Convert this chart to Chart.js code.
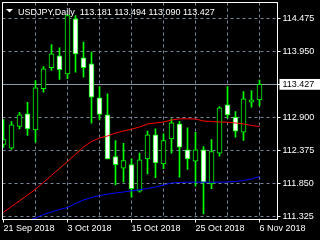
<!DOCTYPE html>
<html><head><meta charset="utf-8">
<script src="https://cdn.jsdelivr.net/npm/chart.js@4/dist/chart.umd.min.js"></script>
<style>html,body{margin:0;padding:0;background:#000;overflow:hidden}canvas{display:block}</style>
</head><body>
<canvas id="c" width="320" height="240"></canvas>
<script>
const chartTitle = 'USDJPY,Daily';
const dates = ['21 Sep 2018','24 Sep 2018','25 Sep 2018','26 Sep 2018','27 Sep 2018','28 Sep 2018',
  '1 Oct 2018','2 Oct 2018','3 Oct 2018','4 Oct 2018','5 Oct 2018','8 Oct 2018','9 Oct 2018','10 Oct 2018',
  '11 Oct 2018','12 Oct 2018','15 Oct 2018','16 Oct 2018','17 Oct 2018','18 Oct 2018','19 Oct 2018',
  '22 Oct 2018','23 Oct 2018','24 Oct 2018','25 Oct 2018','26 Oct 2018','29 Oct 2018','30 Oct 2018',
  '31 Oct 2018','1 Nov 2018','2 Nov 2018','5 Nov 2018','6 Nov 2018'];
const open  = [112.470,112.412,112.757,112.959,112.704,113.357,113.691,113.882,113.595,114.470,113.850,113.754,113.213,112.943,112.280,112.093,112.152,111.728,112.243,112.625,112.163,112.561,112.800,112.386,112.205,112.386,111.845,112.332,113.102,112.905,112.666,113.143,113.181];
const high  = [112.868,112.836,112.984,113.143,113.489,113.711,114.061,114.009,114.539,114.523,114.098,113.939,113.393,113.277,112.534,112.491,112.243,112.332,112.682,112.720,112.641,112.879,112.841,112.736,112.666,112.439,112.550,113.075,113.393,112.995,113.314,113.330,113.494];
const low   = [112.423,112.391,112.720,112.614,112.507,113.303,113.648,113.505,113.516,113.621,113.541,112.809,112.863,112.243,111.829,111.871,111.632,111.712,112.004,111.941,112.084,112.332,111.951,112.073,111.807,111.368,111.766,112.284,112.889,112.587,112.534,113.064,113.090];
const close = [112.550,112.784,112.943,112.720,113.373,113.675,113.913,113.659,114.523,113.913,113.691,113.223,112.948,112.243,112.148,112.216,111.766,112.227,112.625,112.179,112.534,112.816,112.428,112.243,112.386,111.871,112.359,113.054,112.943,112.682,113.198,113.182,113.427];
const maRed  = [111.393,111.484,111.575,111.667,111.758,111.869,111.979,112.089,112.200,112.315,112.431,112.518,112.574,112.606,112.653,112.685,112.714,112.749,112.797,112.813,112.828,112.860,112.879,112.879,112.876,112.844,112.836,112.828,112.825,112.813,112.797,112.773,112.757];
const maBlue = [111.118,111.166,111.209,111.253,111.301,111.357,111.397,111.436,111.468,111.532,111.588,111.627,111.659,111.680,111.699,111.715,111.734,111.750,111.770,111.794,111.826,111.858,111.866,111.871,111.871,111.871,111.871,111.871,111.874,111.882,111.898,111.922,111.961];
const priceTicks = [111.325,111.850,112.375,112.900,113.950,114.475];
const lastPrice = close[close.length - 1];

const FONT = {family: 'Liberation Sans', size: 9};
const GRID = '#778899';
const BID = '#8a99a8';
const GREEN = '#00ff00';
const idx = dates.map((d, i) => i);

const framePlugin = {
  id: 'frame',
  afterDraw(chart) {
    const {ctx, chartArea: a} = chart;
    ctx.save();
    ctx.strokeStyle = '#ffffff';
    ctx.lineWidth = 1;
    ctx.strokeRect(a.left, a.top, a.right - a.left, a.bottom - a.top);
    ctx.fillStyle = '#ffffff';
    ctx.beginPath();
    ctx.moveTo(6, 9); ctx.lineTo(13, 9); ctx.lineTo(9.5, 12.5); ctx.closePath(); ctx.fill();
    ctx.font = '9px "Liberation Sans"';
    ctx.textBaseline = 'alphabetic';
    const n = close.length - 1;
    ctx.fillText(chartTitle + '  ' + [open[n], high[n], low[n], close[n]].map(v => v.toFixed(3)).join(' '), 18, 14.5);
    ctx.restore();
  }
};

new Chart(document.getElementById('c'), {
  type: 'bar',
  data: {
    datasets: [
      {type: 'line', data: idx.map(i => ({x: i, y: maRed[i]})), borderColor: '#ff0000', borderWidth: 1, pointRadius: 0, tension: 0, order: 0},
      {type: 'line', data: idx.map(i => ({x: i, y: maBlue[i]})), borderColor: '#0000ff', borderWidth: 1, pointRadius: 0, tension: 0, order: 0},
      {type: 'bar', data: idx.map(i => ({x: i, y: [open[i], close[i]]})), grouped: false, barPercentage: 1, categoryPercentage: 1, maxBarThickness: 5,
        borderWidth: 1, borderColor: GREEN, borderSkipped: false,
        backgroundColor: c => (close[c.dataIndex] >= open[c.dataIndex] ? '#000000' : '#ffffff'), order: 1},
      {type: 'bar', data: idx.map(i => ({x: i, y: [low[i], high[i]]})), grouped: false, barPercentage: 1, categoryPercentage: 1, maxBarThickness: 1,
        borderWidth: 0, backgroundColor: GREEN, order: 2}
    ]
  },
  options: {
    responsive: false, animation: false, devicePixelRatio: 1, events: [],
    layout: {padding: {top: 2.5, left: 2.5, right: 0, bottom: 0}},
    plugins: {legend: {display: false}, tooltip: {enabled: false}},
    scales: {
      x: {
        type: 'linear', offset: false, min: -0.125, max: 34.25,
        afterBuildTicks: s => { const t = []; for (let i = 0; i < dates.length; i += 4) t.push({value: i}); s.ticks = t; },
        afterFit: s => { s.height = 20.5; s.paddingLeft = 0; s.paddingRight = 0; s.paddingTop = 0; s.paddingBottom = 0; },
        border: {display: false, dash: [3, 3]},
        grid: {offset: false, color: c => (c.tick && c.tick.value === 0 ? 'rgba(0,0,0,0)' : GRID), lineWidth: 1,
          drawTicks: true, tickLength: 3, tickBorderDash: [],
          tickColor: c => (c.tick && c.tick.value % 8 === 0 ? '#ffffff' : 'rgba(0,0,0,0)')},
        ticks: {autoSkip: false, maxRotation: 0, minRotation: 0, align: 'start', color: '#ffffff', font: FONT, padding: 1,
          callback: v => (v % 8 === 0 ? dates[v] : '')}
      },
      y: {
        type: 'linear', position: 'right', min: 111.2773, max: 114.7295,
        afterBuildTicks: s => { s.ticks = priceTicks.concat([lastPrice]).sort((a, b) => a - b).map(v => ({value: v})); },
        afterFit: s => { s.width = 42.5; s.paddingLeft = 0; s.paddingRight = 0; s.paddingTop = 0; s.paddingBottom = 0; },
        border: {display: false, dash: c => (c.tick && c.tick.value === lastPrice ? [] : [3, 3])},
        grid: {color: c => (c.tick && c.tick.value === lastPrice ? BID : GRID), lineWidth: 1,
          drawTicks: true, tickLength: 3, tickBorderDash: [], tickColor: '#ffffff'},
        ticks: {color: c => (c.tick && c.tick.value === lastPrice ? '#000000' : '#ffffff'), font: FONT, padding: 2,
          showLabelBackdrop: c => !!(c.tick && c.tick.value === lastPrice), backdropColor: '#ffffff',
          backdropPadding: {left: 3, right: 6, top: 0, bottom: 0},
          callback: v => v.toFixed(3)}
      }
    }
  },
  plugins: [framePlugin]
});
</script>
</body></html>
